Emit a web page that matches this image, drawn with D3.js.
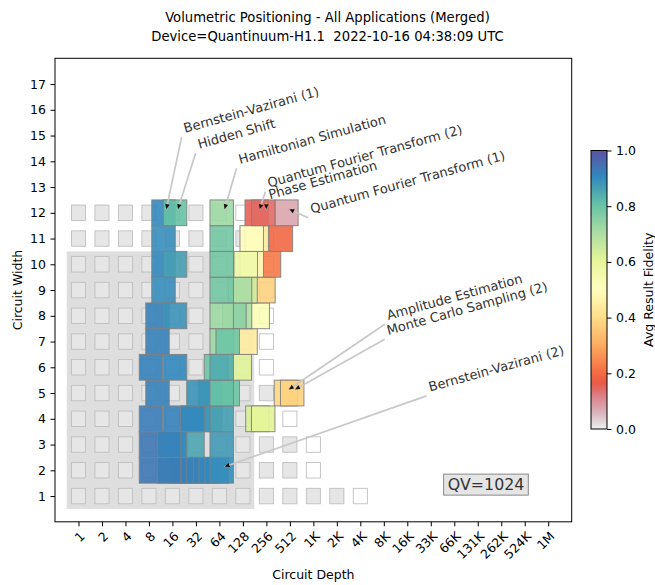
<!DOCTYPE html>
<html>
<head>
<meta charset="utf-8">
<title>Volumetric Positioning</title>
<script src="https://d3js.org/d3.v7.min.js"></script>
<style>
  body { margin: 0; background: #fff; }
  svg text { font-family: "DejaVu Sans", sans-serif; }
</style>
</head>
<body>
<script>
// ---- data ----
var appNames = ["Bernstein-Vazirani (1)", "Bernstein-Vazirani (2)", "Hidden Shift",
  "Quantum Fourier Transform (1)", "Quantum Fourier Transform (2)", "Phase Estimation",
  "Amplitude Estimation", "Monte Carlo Sampling (2)", "Hamiltonian Simulation"];

var appWidths = [
  [2, 3, 4, 5, 6, 7, 8, 9, 10, 11, 12],
  [2, 2, 2, 2, 2, 2, 2, 2, 2],
  [2, 4, 6, 8, 10, 12],
  [3, 4, 5, 6, 7, 8, 9, 10, 11, 12],
  [3, 4, 5, 6, 7, 8, 9, 10, 11, 12],
  [3, 4, 5, 8, 9, 10, 11, 12],
  [4, 5],
  [4, 5],
  [3, 4, 5, 6, 7, 8, 9, 10, 11, 12]
];

var appDepths = [
  [8.5, 8.5, 8.5, 10.3, 8.5, 10.3, 10.3, 12.3, 12.3, 12.3, 12.3],
  [17.3, 20.6, 24.4, 28.9, 34.5, 41.9, 49.5, 59.2, 68.5],
  [14.5, 17.3, 17.3, 17.3, 17.3, 17.3],
  [28.9, 48.5, 81.8, 116.6, 138.3, 198.2, 234.6, 276.7, 393.1, 462.3],
  [17.3, 34.5, 48.5, 57.9, 68.5, 117.6, 138.3, 166.1, 192.5, 192.5],
  [14.5, 28.9, 34.5, 99.7, 117.6, 139.1, 166.1, 234.6],
  [196.6, 456.9],
  [233.1, 548.7],
  [68.5, 68.5, 68.5, 68.5, 81.8, 68.5, 68.5, 68.5, 68.5, 68.5]
];

var appFidelity = [
  [0.93, 0.93, 0.92, 0.91, 0.91, 0.91, 0.91, 0.89, 0.9, 0.89, 0.9],
  [0.92, 0.91, 0.92, 0.91, 0.91, 0.91, 0.9, 0.9, 0.89],
  [0.92, 0.91, 0.9, 0.88, 0.86, 0.8],
  [0.85, 0.82, 0.79, 0.61, 0.44, 0.52, 0.37, 0.22, 0.19, 0.07],
  [0.9, 0.88, 0.87, 0.79, 0.72, 0.7, 0.64, 0.5, 0.43, 0.15],
  [0.91, 0.9, 0.88, 0.74, 0.7, 0.57, 0.5, 0.14],
  [0.62, 0.38],
  [0.6, 0.37],
  [0.87, 0.86, 0.8, 0.84, 0.79, 0.72, 0.78, 0.78, 0.78, 0.72]
];

// where each app's label text sits (depth index, width)
var labelX = [5.39, 15.82, 5.99, 10.78, 8.96, 9.0, 14.04, 14.04, 7.73];
var labelY = [14.94, 4.89, 14.32, 11.81, 12.82, 12.36, 7.67, 7.09, 13.73];

var depthLabels = ["1", "2", "4", "8", "16", "32", "64", "128", "256", "512", "1K", "2K",
  "4K", "8K", "16K", "33K", "66K", "131K", "262K", "524K", "1M"];
var widthTicks = d3.range(1, 18);
var fidelityTicks = [0, 0.2, 0.4, 0.6, 0.8, 1.0];

// last depth with a filled background cell, per circuit width 1..12
var bkgLastDepth = [2048, 512, 512, 256, 256, 128, 128, 128, 128, 128, 128, 64];
var qvValue = 1024, qvWidth = 10, qvDepth = 179;

var titleLines = ["Volumetric Positioning - All Applications (Merged)",
  "Device=Quantinuum-H1.1  2022-10-16 04:38:09 UTC"];

// ---- layout ----
var w = 655, h = 585;
var boxAlpha = 0.9;

var svg = d3.select("body").append("svg")
  .attr("width", w)
  .attr("height", h);

var x = d3.scaleLinear().domain([0, 22]).range([55, 571.7]);
var y = d3.scaleLinear().domain([0, 18]).range([521.8, 58.3]);

function depthIndex(d) { return Math.log2(d) + 1; }

// custom spectral colormap (low values faded to grey)
var spectral = ["#9e0142", "#d53e4f", "#f46d43", "#fdae61", "#fee08b", "#ffffbf",
  "#e6f598", "#abdda4", "#66c2a5", "#3288bd", "#5e4fa2"];
var spec = d3.scaleLinear().domain(d3.range(11).map(function(i){ return i / 10; })).range(spectral);
var nColors = 100, fadeLevel = 0.16, fadeRate = 0.7;
var breakpoint = Math.round(fadeLevel * nColors);
var cmapColors = d3.range(nColors).map(function(i){
  var c = d3.rgb(spec(i / nColors));
  if (i >= breakpoint) return c.formatHex();
  var t = i / breakpoint;
  var r0 = c.r / 255, g0 = c.g / 255, b0 = c.b / 255;
  var r = r0 + (0.92 - r0) * (1 - t);
  var grey = 1 - Math.pow(t, 1 / fadeRate);
  var g = g0 + (r - g0) * grey;
  var b = b0 + (r - b0) * grey;
  return d3.rgb(r * 255, g * 255, b * 255).formatHex();
});
function cmap(v) {
  var i = Math.floor(v * nColors);
  return cmapColors[Math.max(0, Math.min(nColors - 1, i))];
}

// QV region
svg.append("rect")
  .attr("x", x(0.5))
  .attr("y", y(qvWidth + 0.5))
  .attr("width", x(depthIndex(qvDepth)) - x(0.5))
  .attr("height", y(0.5) - y(qvWidth + 0.5))
  .attr("fill", "#dedede");

// background cells
var bkgCells = [];
bkgLastDepth.forEach(function(last, k){
  var wd = k + 1;
  for (var d = 1; d <= last; d *= 2) bkgCells.push({w: wd, d: d, empty: false});
  bkgCells.push({w: wd, d: last * 2, empty: true});
});
var cs = 0.6;
svg.append("g").selectAll("rect")
  .data(bkgCells)
  .enter()
  .append("rect")
  .attr("x", function(c){ return x(depthIndex(c.d) - cs / 2); })
  .attr("y", function(c){ return y(c.w + cs / 2); })
  .attr("width", x(cs) - x(0))
  .attr("height", y(0) - y(cs))
  .attr("fill", function(c){ return c.empty ? "#ffffff" : "#e6e6e6"; })
  .attr("stroke", "#bfbfbf")
  .attr("stroke-width", 0.9);

// data boxes
var boxes = [];
appNames.forEach(function(name, a){
  appWidths[a].forEach(function(wd, i){
    boxes.push({w: wd, d: appDepths[a][i], f: appFidelity[a][i]});
  });
});
svg.append("g").selectAll("rect")
  .data(boxes)
  .enter()
  .append("rect")
  .attr("x", function(b){ return x(depthIndex(b.d) - 0.5); })
  .attr("y", function(b){ return y(b.w + 0.5); })
  .attr("width", x(1) - x(0))
  .attr("height", y(0) - y(1))
  .attr("fill", function(b){ return cmap(b.f); })
  .attr("fill-opacity", boxAlpha)
  .attr("stroke", "#808080")
  .attr("stroke-opacity", boxAlpha)
  .attr("stroke-width", 1);

// annotations
var rot = 15.5;
var annos = appNames.map(function(name, a){
  var n = appWidths[a].length - 1;
  return {
    name: name,
    sx: x(labelX[a]), sy: y(labelY[a]),
    tx: x(depthIndex(appDepths[a][n]) + 0.12), ty: y(appWidths[a][n] + 0.14)
  };
});
var ag = svg.append("g");
ag.selectAll("line")
  .data(annos)
  .enter()
  .append("line")
  .attr("x1", function(d){ return d.sx; })
  .attr("y1", function(d){ return d.sy; })
  .attr("x2", function(d){ return d.tx; })
  .attr("y2", function(d){ return d.ty; })
  .attr("stroke", "#c8c8c8")
  .attr("stroke-width", 1.7);
ag.selectAll("path")
  .data(annos)
  .enter()
  .append("path")
  .attr("d", function(d){
    var ang = Math.atan2(d.ty - d.sy, d.tx - d.sx);
    var L = 5, W = 2.2;
    var bx = d.tx - L * Math.cos(ang), by = d.ty - L * Math.sin(ang);
    var px = -Math.sin(ang) * W, py = Math.cos(ang) * W;
    return "M" + d.tx + "," + d.ty + "L" + (bx + px) + "," + (by + py) + "L" + (bx - px) + "," + (by - py) + "Z";
  })
  .attr("fill", "#111");
ag.selectAll("text")
  .data(annos)
  .enter()
  .append("text")
  .attr("transform", function(d){
    return "translate(" + (d.sx + 3.5) + "," + (d.sy - 4.3) + ") rotate(" + (-rot) + ")";
  })
  .attr("font-size", "13px")
  .attr("fill", "#333")
  .text(function(d){ return d.name; });

// frame
svg.append("rect")
  .attr("x", x(0)).attr("y", y(18))
  .attr("width", x(22) - x(0)).attr("height", y(0) - y(18))
  .attr("fill", "none").attr("stroke", "#000").attr("stroke-width", 1);

// x axis
var gx = svg.append("g")
  .attr("transform", "translate(0," + y(0) + ")")
  .call(d3.axisBottom(x).tickValues(d3.range(1, 22))
    .tickFormat(function(d, i){ return depthLabels[i]; })
    .tickSize(4.5).tickPadding(0));
gx.select(".domain").remove();
gx.selectAll("text")
  .attr("y", 0)
  .attr("dy", "0.76em")
  .attr("text-anchor", "end")
  .attr("transform", "translate(0,8.5) rotate(-45)")
  .attr("font-size", "12.5px")
  .attr("font-family", "DejaVu Sans")
  .attr("fill", "#000");

// y axis
var gy = svg.append("g")
  .attr("transform", "translate(" + x(0) + ",0)")
  .call(d3.axisLeft(y).tickValues(widthTicks).tickSize(4.5).tickPadding(4.5));
gy.select(".domain").remove();
gy.selectAll("text")
  .attr("font-size", "12.5px")
  .attr("font-family", "DejaVu Sans")
  .attr("fill", "#000");

// axis titles
svg.append("text")
  .attr("x", (x(0) + x(22)) / 2).attr("y", 579)
  .attr("text-anchor", "middle").attr("font-size", "12.5px")
  .text("Circuit Depth");
svg.append("text")
  .attr("transform", "translate(21.5," + (y(0) + y(18)) / 2 + ") rotate(-90)")
  .attr("text-anchor", "middle").attr("font-size", "12.5px")
  .text("Circuit Width");

// title
svg.selectAll(".title")
  .data(titleLines)
  .enter()
  .append("text")
  .attr("class", "title")
  .attr("x", w / 2)
  .attr("y", function(d, i){ return 22 + i * 19; })
  .attr("text-anchor", "middle")
  .attr("font-size", "13.2px")
  .style("white-space", "pre")
  .text(function(d){ return d; });

// QV label
var qvText = svg.append("text")
  .attr("x", x(18.35)).attr("y", y(1.23))
  .attr("text-anchor", "middle")
  .attr("font-size", "15.8px")
  .attr("fill", "#333")
  .text("QV=" + qvValue);
var bb = qvText.node().getBBox();
svg.insert("rect", function(){ return qvText.node(); })
  .attr("x", bb.x - 4).attr("y", bb.y - 1)
  .attr("width", bb.width + 8).attr("height", bb.height + 2)
  .attr("fill", "#e5e5e5").attr("stroke", "#888").attr("stroke-width", 1);

// colorbar
var cbx = 591, cbw = 16;
var cy = d3.scaleLinear().domain([0, 1]).range([429, 150.5]);
var grad = svg.append("defs").append("linearGradient")
  .attr("id", "cbgrad").attr("x1", 0).attr("y1", 1).attr("x2", 0).attr("y2", 0);
grad.selectAll("stop")
  .data(cmapColors)
  .enter()
  .append("stop")
  .attr("offset", function(c, i){ return (i + 0.5) / nColors; })
  .attr("stop-color", function(c){ return c; });
svg.append("rect")
  .attr("x", cbx).attr("y", cy(1))
  .attr("width", cbw).attr("height", cy(0) - cy(1))
  .attr("fill", "url(#cbgrad)")
  .attr("stroke", "#000").attr("stroke-width", 1);
var gc = svg.append("g")
  .attr("transform", "translate(" + (cbx + cbw) + ",0)")
  .call(d3.axisRight(cy).tickValues(fidelityTicks).tickFormat(d3.format(".1f"))
    .tickSize(4.5).tickPadding(4.5));
gc.select(".domain").remove();
gc.selectAll("text")
  .attr("font-size", "12.5px")
  .attr("font-family", "DejaVu Sans")
  .attr("fill", "#000");
svg.append("text")
  .attr("transform", "translate(653," + (cy(0) + cy(1)) / 2 + ") rotate(-90)")
  .attr("text-anchor", "middle").attr("font-size", "12.5px")
  .text("Avg Result Fidelity");
</script>
</body>
</html>
